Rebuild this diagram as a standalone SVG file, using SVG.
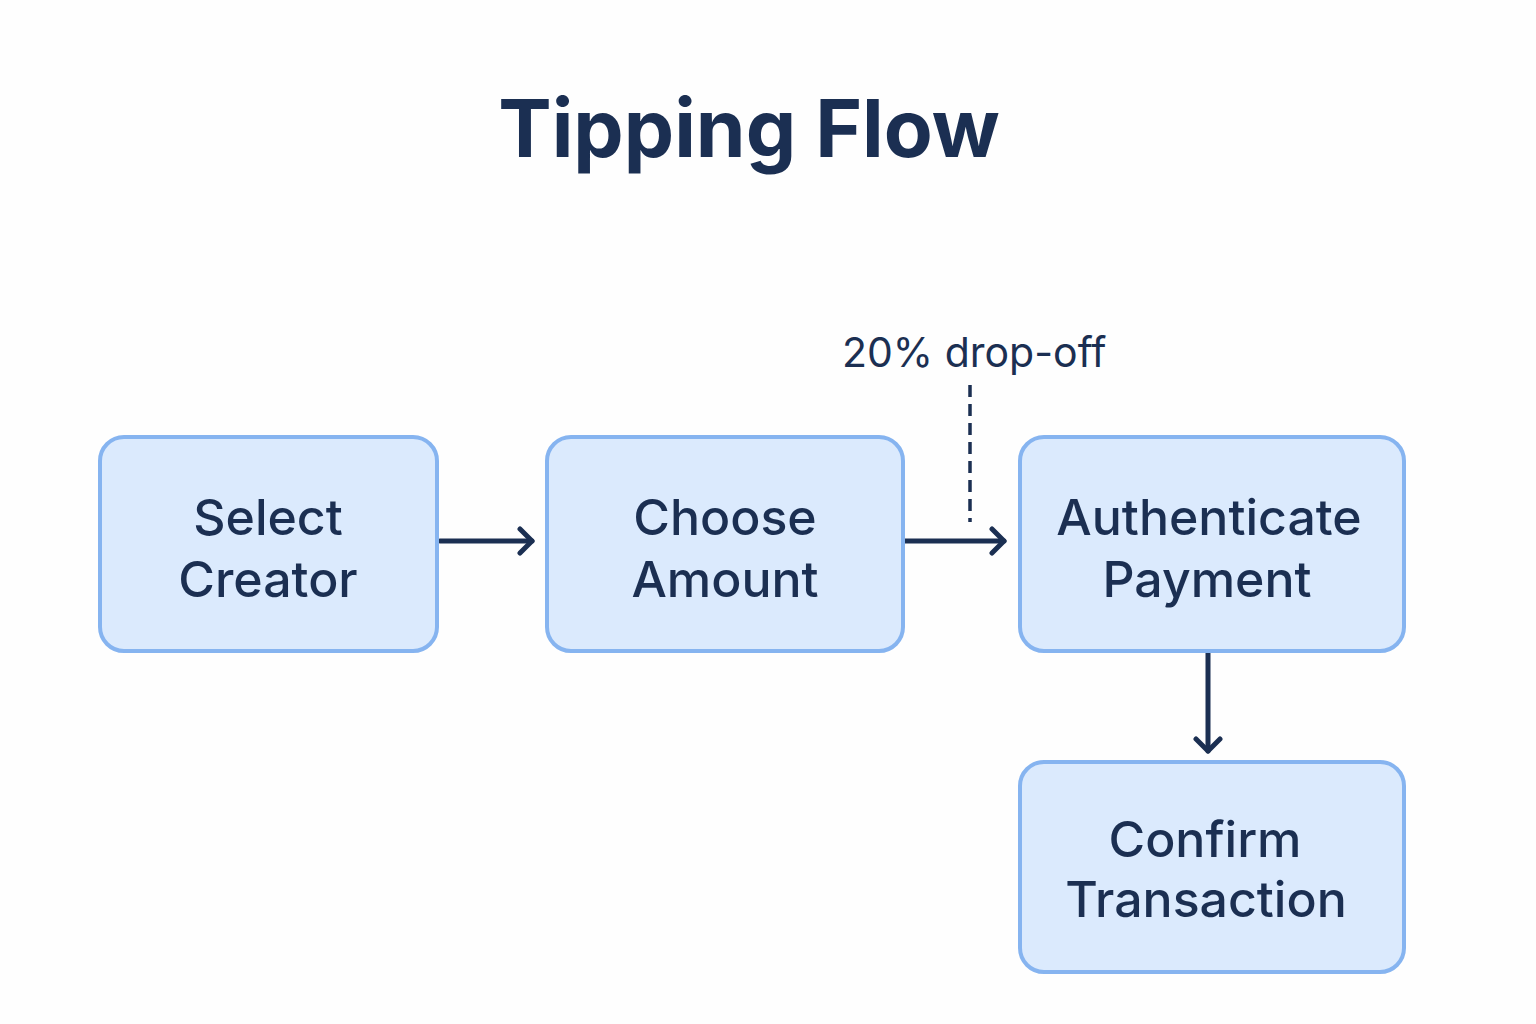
<svg xmlns="http://www.w3.org/2000/svg" width="1536" height="1024" viewBox="0 0 1536 1024">
<defs>
<style>
.node rect{fill:#dbeafd;stroke:#86b4f0;stroke-width:4}
.label{font-family:Inter,"Liberation Sans",sans-serif;font-size:50px;font-weight:500;fill:#1b2f52;text-anchor:middle}
.title{font-family:Inter,"Liberation Sans",sans-serif;font-size:80px;font-weight:700;fill:#1b2f52;text-anchor:middle}
.note{font-family:Inter,"Liberation Sans",sans-serif;font-size:41px;font-weight:400;fill:#1b2f52}
.conn{stroke:#1b2f52;stroke-width:5;fill:none;stroke-linecap:round}
.dash{stroke:#1b2f52;stroke-width:3.5;fill:none;stroke-dasharray:12 7}
</style>
<marker id="arr" viewBox="0 0 30 30" refX="24" refY="15" markerWidth="30" markerHeight="30" markerUnits="userSpaceOnUse" orient="auto">
<path d="M12 3 L24 15 L12 27" fill="none" stroke="#1b2f52" stroke-width="5" stroke-linecap="round" stroke-linejoin="round"/>
</marker>
</defs>
<rect width="1536" height="1024" fill="#fefefe"/>
<text class="title" x="749" y="157">Tipping Flow</text>
<g id="connectors">
<line class="conn" x1="440" y1="541" x2="532" y2="541" marker-end="url(#arr)"/>
<line class="conn" x1="905" y1="541" x2="1004" y2="541" marker-end="url(#arr)"/>
<line class="conn" x1="1208" y1="653" x2="1208" y2="751" marker-end="url(#arr)"/>
<line class="dash" x1="970" y1="385" x2="970" y2="522"/>
<text class="note" x="842" y="367">20% drop-off</text>
</g>
<g id="select-creator" class="node">
<rect x="100" y="437" width="337" height="214" rx="24"/>
<text class="label" x="268" y="535">Select</text>
<text class="label" x="268" y="597">Creator</text>
</g>
<g id="choose-amount" class="node">
<rect x="547" y="437" width="356" height="214" rx="24"/>
<text class="label" x="725" y="535">Choose</text>
<text class="label" x="725" y="597">Amount</text>
</g>
<g id="authenticate-payment" class="node">
<rect x="1020" y="437" width="384" height="214" rx="24"/>
<text class="label" x="1209" y="535">Authenticate</text>
<text class="label" x="1207" y="597">Payment</text>
</g>
<g id="confirm-transaction" class="node">
<rect x="1020" y="762" width="384" height="210" rx="24"/>
<text class="label" x="1205" y="857">Confirm</text>
<text class="label" x="1206" y="917">Transaction</text>
</g>
</svg>
